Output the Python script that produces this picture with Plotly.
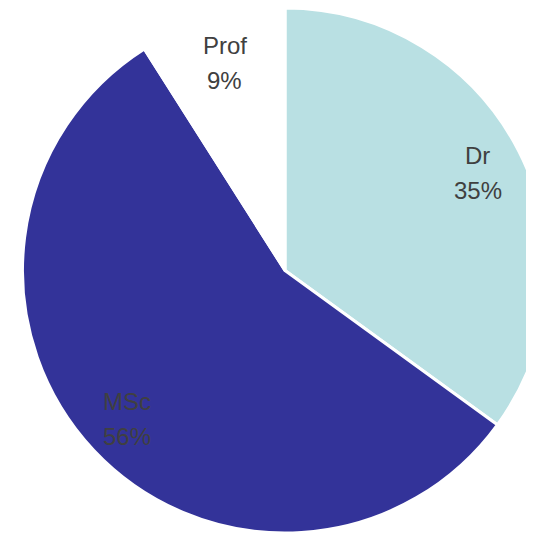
import math
import plotly.graph_objects as go

categories = ["Dr", "MSc", "Prof"]
values = [35, 56, 9]
colors = ["#B9E0E3", "#333399", "#FFFFFF"]

W, H = 554, 525
cx, cy, r = W / 2, H / 2, min(W, H) / 2

fig = go.Figure(go.Pie(
    labels=categories, values=values, sort=False, direction="clockwise", rotation=0,
    marker=dict(colors=colors, line=dict(color="#FFFFFF", width=3)),
    textinfo="none", hoverinfo="label+percent",
    domain=dict(x=[0, 1], y=[0, 1]), showlegend=False,
))

total = sum(values)
cum = 0
annotations = []
for cat, v in zip(categories, values):
    mid = (cum + v / 2) / total * 2 * math.pi
    cum += v
    px = cx + 0.825 * r * math.sin(mid)
    py = cy - 0.825 * r * math.cos(mid)
    pct = f"{round(v / total * 100)}%"
    for txt, dy in ((cat, -17), (pct, 18)):
        annotations.append(dict(
            x=px / W, y=1 - (py + dy) / H, xref="paper", yref="paper",
            text=txt, showarrow=False, xanchor="center", yanchor="middle",
            font=dict(family="Liberation Sans, Arial, sans-serif", size=24, color="#404040"),
        ))

fig.update_layout(
    width=W, height=H, margin=dict(l=0, r=0, t=0, b=0),
    paper_bgcolor="#FFFFFF", plot_bgcolor="#FFFFFF",
    annotations=annotations,
)
fig.write_html(
    "out.html",
    post_script="document.documentElement.style.overflow='hidden';document.body.style.overflow='hidden';",
)
